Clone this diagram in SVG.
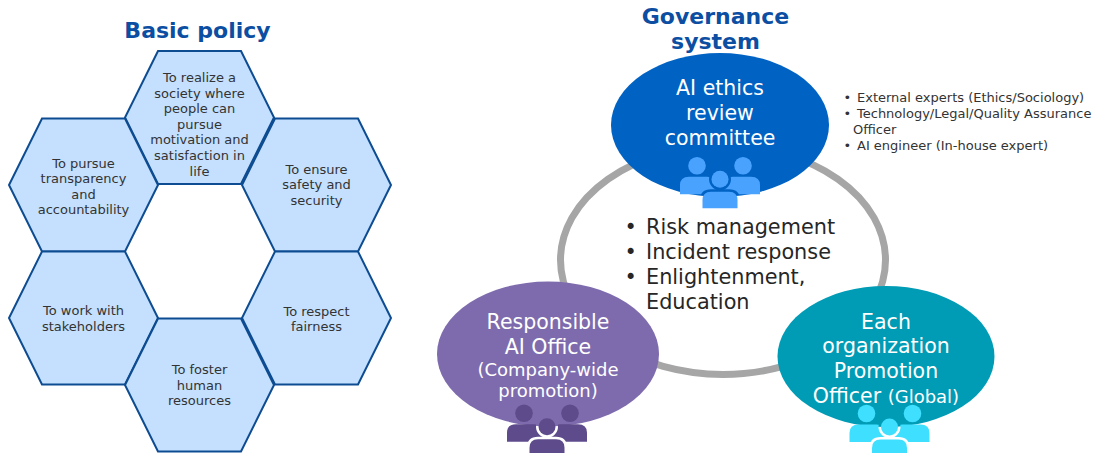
<svg xmlns="http://www.w3.org/2000/svg" xmlns:xlink="http://www.w3.org/1999/xlink" width="1097" height="453" viewBox="0 0 1097 453">
<style>
.title{font-family:"DejaVu Sans",Verdana,sans-serif;font-weight:bold;font-size:22px;fill:#0B4EA2;text-anchor:middle}
.hex{fill:#C4E0FE;stroke:#0E4C92;stroke-width:2;stroke-linejoin:miter}
.ht{font-family:"DejaVu Sans",Verdana,sans-serif;font-size:13px;fill:#333333;text-anchor:middle}
.et{font-family:"DejaVu Sans",Verdana,sans-serif;font-size:20.5px;fill:#FFFFFF;text-anchor:middle}
.sm{font-size:18px}
.note{font-family:"DejaVu Sans",Verdana,sans-serif;font-size:13px;fill:#333333}
.ctr{font-family:"DejaVu Sans",Verdana,sans-serif;font-size:20.8px;fill:#262626}
</style>
<defs>
<polygon id="hexShape" points="-41.5,-66.5 41.5,-66.5 74.5,0 41.5,66.5 -41.5,66.5 -74.5,0"/>
<mask id="gapMask" maskUnits="userSpaceOnUse" x="-50" y="-30" width="100" height="70">
<rect x="-50" y="-30" width="100" height="70" fill="#fff"/>
<circle cx="0" cy="0" r="8.5" fill="#000" stroke="#000" stroke-width="5"/>
<path d="M-17.5,31 V21 Q-17.5,12.5 -9,12.5 H9 Q17.5,12.5 17.5,21 V31 Z" fill="#000" stroke="#000" stroke-width="5"/>
</mask>
<g id="people">
<g mask="url(#gapMask)">
<circle cx="-23" cy="-13.5" r="8.8"/>
<circle cx="23" cy="-13.5" r="8.8"/>
<path d="M-40,15 V6 Q-40,-2.5 -31,-2.5 H-13 Q-4,-2.5 -4,6 V15 Z"/>
<path d="M4,15 V6 Q4,-2.5 13,-2.5 H31 Q40,-2.5 40,6 V15 Z"/>
</g>
<circle cx="0" cy="0" r="8.5"/>
<path d="M-17.5,29 V21 Q-17.5,12.5 -9,12.5 H9 Q17.5,12.5 17.5,21 V29 Z"/>
</g>
</defs>
<rect width="1097" height="453" fill="#FFFFFF"/>

<g id="title-basic-policy">
<text class="title" x="197.5" y="38.3">Basic policy</text>
</g>

<g id="hex-society">
<use xlink:href="#hexShape" href="#hexShape" class="hex" transform="translate(199.5,117.5)"/>
<text class="ht"><tspan x="199.5" y="82">To realize a</tspan><tspan x="199.5" y="97.6">society where</tspan><tspan x="199.5" y="113.2">people can</tspan><tspan x="199.5" y="128.8">pursue</tspan><tspan x="199.5" y="144.4">motivation and</tspan><tspan x="199.5" y="160">satisfaction in</tspan><tspan x="199.5" y="175.6">life</tspan></text>
</g>
<g id="hex-transparency">
<use xlink:href="#hexShape" href="#hexShape" class="hex" transform="translate(83.5,185)"/>
<text class="ht"><tspan x="83.5" y="167.7">To pursue</tspan><tspan x="83.5" y="183.2">transparency</tspan><tspan x="83.5" y="198.7">and</tspan><tspan x="83.5" y="214.2">accountability</tspan></text>
</g>
<g id="hex-safety">
<use xlink:href="#hexShape" href="#hexShape" class="hex" transform="translate(316.5,185)"/>
<text class="ht"><tspan x="316.5" y="174">To ensure</tspan><tspan x="316.5" y="189.4">safety and</tspan><tspan x="316.5" y="204.8">security</tspan></text>
</g>
<g id="hex-stakeholders">
<use xlink:href="#hexShape" href="#hexShape" class="hex" transform="translate(83.5,318)"/>
<text class="ht"><tspan x="83.5" y="315">To work with</tspan><tspan x="83.5" y="330.7">stakeholders</tspan></text>
</g>
<g id="hex-fairness">
<use xlink:href="#hexShape" href="#hexShape" class="hex" transform="translate(316.5,318)"/>
<text class="ht"><tspan x="316.5" y="316">To respect</tspan><tspan x="316.5" y="330.7">fairness</tspan></text>
</g>
<g id="hex-human">
<use xlink:href="#hexShape" href="#hexShape" class="hex" transform="translate(199.5,385)"/>
<text class="ht"><tspan x="199.5" y="374">To foster</tspan><tspan x="199.5" y="389.6">human</tspan><tspan x="199.5" y="405.2">resources</tspan></text>
</g>

<g id="title-governance">
<text class="title"><tspan x="715.5" y="24">Governance</tspan><tspan x="715.5" y="49">system</tspan></text>
</g>

<g id="connectors">
<ellipse cx="723" cy="260" rx="162.5" ry="114.5" fill="none" stroke="#A6A6A6" stroke-width="7"/>
</g>

<g id="center-text">
<text class="ctr" x="624.6" y="234">•<tspan x="646">Risk management</tspan></text>
<text class="ctr" x="624.6" y="259">•<tspan x="646">Incident response</tspan></text>
<text class="ctr" x="624.6" y="284">•<tspan x="646">Enlightenment,</tspan></text>
<text class="ctr" x="646" y="308.5">Education</text>
</g>

<g id="node-committee">
<ellipse cx="720" cy="125" rx="109" ry="72" fill="#0062C3"/>
<text class="et"><tspan x="720" y="95">AI ethics</tspan><tspan x="720" y="119.5">review</tspan><tspan x="720" y="145">committee</tspan></text>
<use xlink:href="#people" href="#people" x="720" y="179.3" fill="#4AA2FF"/>
</g>

<g id="node-members">
<text class="note" x="843.5" y="102">•<tspan x="857">External experts (Ethics/Sociology)</tspan></text>
<text class="note" x="843.5" y="118.3">•<tspan x="857">Technology/Legal/Quality Assurance</tspan></text>
<text class="note" x="853" y="133.5">Officer</text>
<text class="note" x="843.5" y="150">•<tspan x="857">AI engineer (In-house expert)</tspan></text>
</g>

<g id="node-office">
<ellipse cx="548" cy="354" rx="111" ry="72.5" fill="#7E6BAD"/>
<text class="et"><tspan x="548" y="329.3">Responsible</tspan><tspan x="548" y="354">AI Office</tspan><tspan x="548" y="376" class="sm">(Company-wide</tspan><tspan x="548" y="397.3" class="sm">promotion)</tspan></text>
<use xlink:href="#people" href="#people" x="547" y="426.7" fill="#5E4B8B"/>
</g>

<g id="node-officer">
<ellipse cx="886" cy="356.5" rx="108.5" ry="70.5" fill="#009CB5"/>
<text class="et"><tspan x="886" y="329.3">Each</tspan><tspan x="886" y="353.3">organization</tspan><tspan x="886" y="378.3">Promotion</tspan><tspan x="886" y="403.3">Officer <tspan class="sm">(Global)</tspan></tspan></text>
<use xlink:href="#people" href="#people" x="889.5" y="427" fill="#3FE0FF"/>
</g>
</svg>
